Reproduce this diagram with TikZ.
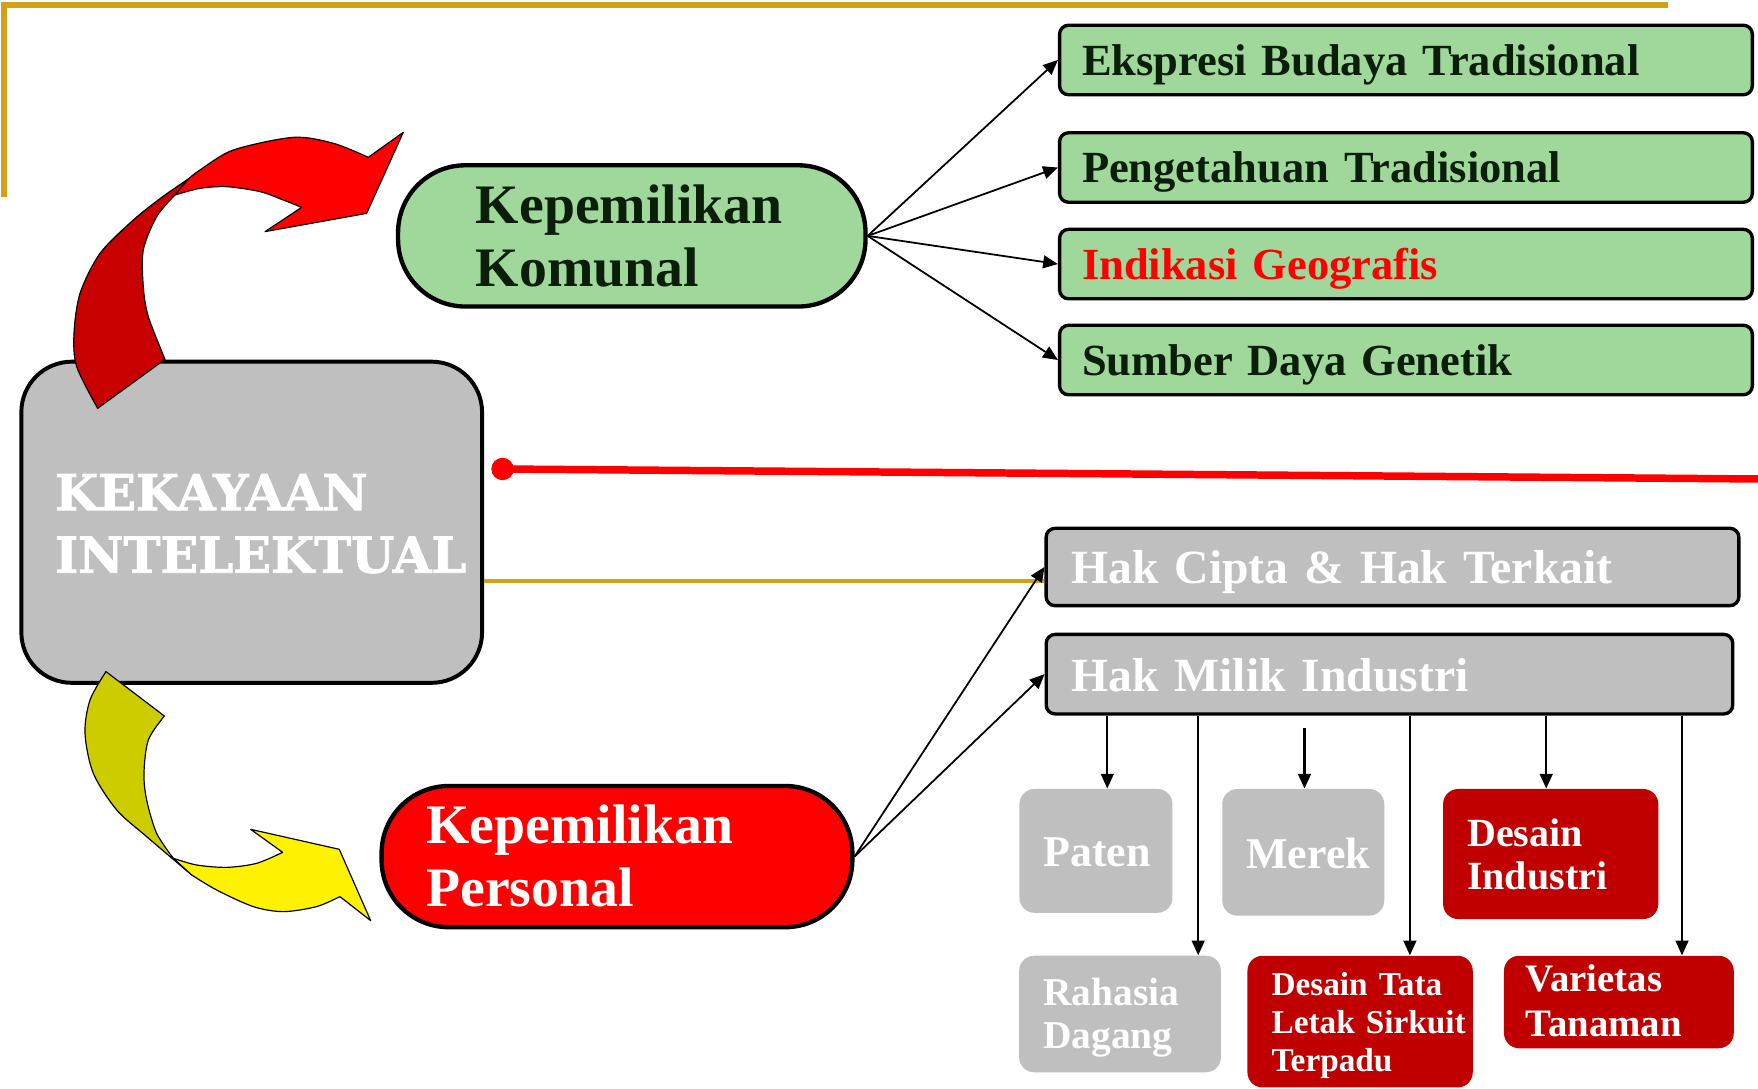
\documentclass[tikz,border=0pt]{standalone}
\usepackage{fontspec}
\setmainfont{Liberation Serif}[WordSpace=0.65]
\newfontfamily\kkfont{DejaVu Serif}[FakeBold=1.6]
\usetikzlibrary{arrows.meta}
\definecolor{gboxfill}{HTML}{A0D89C}
\definecolor{gtext}{HTML}{0A1E0A}
\definecolor{grayfill}{HTML}{BFBFBF}
\definecolor{darkred}{HTML}{C00000}
\definecolor{goldline}{HTML}{D4A017}
\definecolor{arrRedD}{HTML}{C80000}
\definecolor{arrYelD}{HTML}{CCCC00}
\begin{document}
\begin{tikzpicture}[x=0.02cm,y=-0.02cm,
  greenbox/.style={draw=black, line width=1.7pt, fill=gboxfill, rounded corners=0.16cm,
    minimum height=1.24cm, inner xsep=0.4cm, inner ysep=0pt, text width=11.56cm, align=left,
    text height=15.6pt, text depth=0pt, font=\fontsize{22.6}{26}\selectfont\bfseries, text=gtext},
  hakbox/.style={draw=black, line width=1.7pt, fill=grayfill, rounded corners=0.16cm,
    inner xsep=0.45cm, inner ysep=0pt, align=left, text=white, text depth=0pt,
    font=\fontsize{24.2}{28}\selectfont\bfseries},
  subbox/.style={rounded corners=0.27cm, inner xsep=0.43cm, inner ysep=0pt, align=left, text=white},
  stadium/.style={draw=black, line width=2.2pt, rounded corners=1.2cm, inner ysep=0pt,
    align=left, text height=0pt, font=\fontsize{28.3}{32}\selectfont\bfseries},
  arr/.style={line width=0.9pt, -{Triangle[length=7.5pt,width=6.5pt]}},
  subarr/.style={line width=1.1pt, -{Triangle[length=7.5pt,width=6.5pt]}},
  curvearrow/.style={draw=black, line width=0.6pt, line join=round}
]
\fill[white] (0,0) rectangle (1568,971);
\useasboundingbox (0,0) rectangle (1568,971);

% gold frame lines
\coordinate (g1) at (3.6,175.4);
\coordinate (g3) at (1487.6,4.5);
\draw[goldline, line width=2.6pt] (g1) |- (g3);

% main box
\node[draw=black, line width=2pt, fill=grayfill, rounded corners=0.9cm, minimum height=5.73cm,
  inner xsep=0.6cm, inner ysep=0pt, text width=7.02cm, align=left, text=white,
  text height=0pt, text depth=12.2pt, font=\kkfont\fontsize{25.2}{31.7}\selectfont\bfseries]
  (ki) at (224.5,465.8) {KEKAYAAN\\INTELEKTUAL};

% red line
\coordinate (rs) at (448.2,418.3);
\coordinate (re) at (1568,427.2);
\draw[red, line width=3.8pt] (rs) -- (re);
\fill[red] (rs) circle[radius=0.2cm];

% green boxes
\node[greenbox] (ebt) at (1254,53.5) {Ekspresi Budaya Tradisional};
\node[greenbox] (pt) at (1254,149.4) {Pengetahuan Tradisional};
\node[greenbox, text=red] (ig) at (1254,235.5) {Indikasi Geografis};
\node[greenbox] (sdg) at (1254,321.1) {Sumber Daya Genetik};

% stadiums
\node[stadium, fill=gboxfill, text=gtext, minimum height=2.52cm, inner xsep=1.39cm,
  text width=5.56cm, text depth=12.7pt] (kk) at (563.5,210.4) {Kepemilikan\\Komunal};
\node[stadium, fill=red, text=white, minimum height=2.52cm, inner xsep=0.8cm,
  text width=6.8cm, text depth=13.6pt] (kp) at (550.3,764) {Kepemilikan\\Personal};

% Hak boxes
\node[hakbox, minimum height=1.38cm, text width=11.46cm, text height=17.2pt] (hc) at (1242,505.7) {Hak Cipta \& Hak Terkait};
\node[hakbox, minimum height=1.42cm, text width=11.35cm, text height=17.7pt] (hm) at (1239.3,601.3) {Hak Milik Industri};

% gold connector
\coordinate (gy) at (0,518);
\draw[goldline, line width=2pt] (ki.east |- gy) -- (hc.west |- gy);

% sub boxes
\node[subbox, fill=grayfill, minimum height=2.21cm, text width=1.87cm, text height=16pt, text depth=0pt,
  font=\fontsize{22.3}{26}\selectfont\bfseries] (paten) at (977.5,758.9) {Paten};
\node[subbox, fill=grayfill, minimum height=2.26cm, text width=2.03cm, text height=16.2pt, text depth=0pt,
  font=\fontsize{22.3}{26}\selectfont\bfseries] (merek) at (1162.4,760.2) {Merek};
\node[subbox, fill=darkred, minimum height=2.32cm, text width=2.98cm, text height=0pt, text depth=8pt,
  font=\fontsize{20.3}{21.9}\selectfont\bfseries] (di) at (1383.1,761.7) {Desain\\Industri};
\node[subbox, fill=grayfill, minimum height=2.08cm, text width=2.74cm, text height=0pt, text depth=9.1pt,
  font=\fontsize{20}{21.9}\selectfont\bfseries] (rd) at (999,904.4) {Rahasia\\Dagang};
\node[subbox, fill=darkred, minimum height=2.35cm, text width=3.16cm, text height=0pt, text depth=27pt,
  font=\fontsize{16.9}{19.4}\selectfont\bfseries] (dtl) at (1213.1,911.2) {\mbox{Desain Tata}\\\mbox{Letak Sirkuit}\\Terpadu};
\node[subbox, fill=darkred, minimum height=1.65cm, inner xsep=0.39cm, text width=3.32cm, text height=0pt, text depth=10.4pt,
  font=\fontsize{19.7}{22.7}\selectfont\bfseries] (vt) at (1443.9,893.7) {Varietas\\Tanaman};

% connectors
\draw[arr] (kk.east) -- (ebt.west);
\draw[arr] (kk.east) -- (pt.west);
\draw[arr] (kk.east) -- (ig.west);
\draw[arr] (kk.east) -- (sdg.west);
\draw[arr] (kp.east) -- (hc.west);
\draw[arr] (kp.east) -- (hm.west);

\coordinate (xa) at (987.6,0);
\coordinate (xb) at (1068.7,0);
\coordinate (xc) at (1163.5,0);
\coordinate (xd) at (1257.5,0);
\coordinate (xe) at (1379.1,0);
\coordinate (xf) at (1500.2,0);
\path (hm.south -| xc) ++(0,11) coordinate (ms);
\draw[subarr] (hm.south -| xa) -- (paten.north -| xa);
\draw[subarr] (hm.south -| xb) -- (rd.north -| xb);
\draw[subarr] (ms) -- (merek.north -| xc);
\draw[subarr] (hm.south -| xd) -- (dtl.north -| xd);
\draw[subarr] (hm.south -| xe) -- (di.north -| xe);
\draw[subarr] (hm.south -| xf) -- (vt.north -| xf);

% red curved arrow
\filldraw[curvearrow, fill=arrRedD] (87.1,364.2) -- plot[smooth] coordinates {(87.1,364.2) (68.4,327.0) (66.0,297.3) (71.4,261.6) (89.2,226.0) (118.9,196.2) (145.0,175.5) (168.0,159.6)}
  -- (156.1,173.9) -- plot[smooth] coordinates {(156.1,173.9) (139.7,193.3) (127.8,223.0) (127.8,255.7) (132.3,282.4) (147.2,320.5)} -- cycle;
\filldraw[curvearrow, fill=red] (168.0,159.6) -- plot[smooth] coordinates {(168.0,159.6) (178.4,151.6) (208.1,133.8) (261.6,122.5) (297.3,127.8) (328.5,140.3)}
  -- (359.7,118.0) -- (327.0,190.3) -- (236.4,206.6) -- (269.1,184.9)
  -- plot[smooth] coordinates {(269.1,184.9) (252.7,178.4) (231.9,170.9) (202.2,166.5) (178.4,168.0) (156.1,173.9)} -- cycle;

% yellow curved arrow
\filldraw[curvearrow, fill=arrYelD] (94.5,599.0) -- plot[smooth] coordinates {(94.5,599.0) (80.3,624.3) (75.8,654.0) (83.2,689.7) (104.1,722.4) (130.8,746.2) (171.0,780.4)}
  -- (154.6,765.5) -- plot[smooth] coordinates {(154.6,765.5) (139.7,743.2) (130.8,713.5) (128.4,689.7) (132.3,660.0) (146.6,638.6)} -- cycle;
\filldraw[curvearrow, fill=yellow] (171.0,780.4) -- plot[smooth] coordinates {(171.0,780.4) (193.2,793.8) (225.9,808.6) (252.7,813.1) (282.4,808.6) (303.2,799.7)}
  -- (330.6,821.1) -- (302.6,757.5) -- (223.6,739.7) -- (252.1,760.2)
  -- plot[smooth] coordinates {(252.1,760.2) (228.9,770.0) (202.2,773.6) (175.4,771.5) (154.6,765.5)} -- cycle;
\end{tikzpicture}
\end{document}
